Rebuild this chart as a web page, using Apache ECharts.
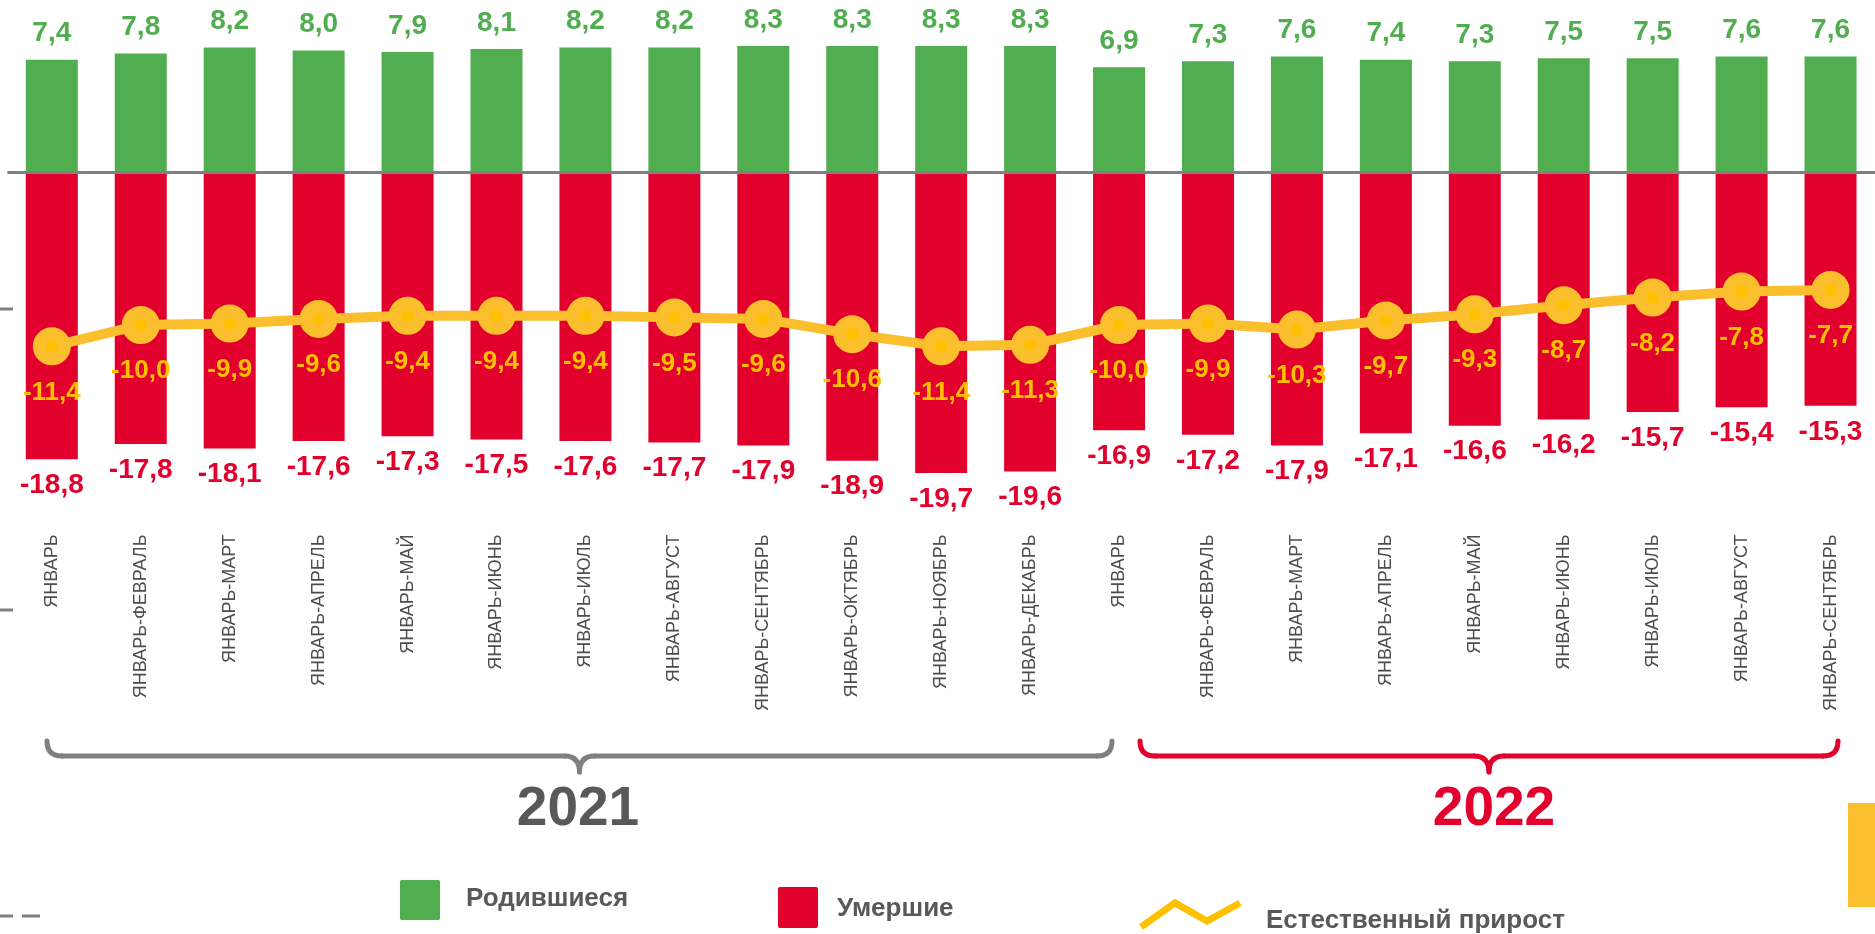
<!DOCTYPE html>
<html>
<head>
<meta charset="utf-8">
<script src="https://cdn.jsdelivr.net/npm/echarts@6/dist/echarts.min.js"></script>
<style>
  html, body { margin: 0; padding: 0; background: #fff; }
  #chartContainer { width: 1875px; height: 934px; }
</style>
</head>
<body>
<div id="chartContainer"></div>
<script>
// Categories (two years, cumulative periods)
const months2021 = ['ЯНВАРЬ', 'ЯНВАРЬ-ФЕВРАЛЬ', 'ЯНВАРЬ-МАРТ', 'ЯНВАРЬ-АПРЕЛЬ', 'ЯНВАРЬ-МАЙ', 'ЯНВАРЬ-ИЮНЬ',
    'ЯНВАРЬ-ИЮЛЬ', 'ЯНВАРЬ-АВГУСТ', 'ЯНВАРЬ-СЕНТЯБРЬ', 'ЯНВАРЬ-ОКТЯБРЬ', 'ЯНВАРЬ-НОЯБРЬ', 'ЯНВАРЬ-ДЕКАБРЬ'];
const months2022 = ['ЯНВАРЬ', 'ЯНВАРЬ-ФЕВРАЛЬ', 'ЯНВАРЬ-МАРТ', 'ЯНВАРЬ-АПРЕЛЬ', 'ЯНВАРЬ-МАЙ', 'ЯНВАРЬ-ИЮНЬ',
    'ЯНВАРЬ-ИЮЛЬ', 'ЯНВАРЬ-АВГУСТ', 'ЯНВАРЬ-СЕНТЯБРЬ'];

// Values per 1000 population
const births = [7.4, 7.8, 8.2, 8.0, 7.9, 8.1, 8.2, 8.2, 8.3, 8.3, 8.3, 8.3,
    6.9, 7.3, 7.6, 7.4, 7.3, 7.5, 7.5, 7.6, 7.6];
const deaths = [-18.8, -17.8, -18.1, -17.6, -17.3, -17.5, -17.6, -17.7, -17.9, -18.9, -19.7, -19.6,
    -16.9, -17.2, -17.9, -17.1, -16.6, -16.2, -15.7, -15.4, -15.3];
const naturalGrowth = [-11.4, -10.0, -9.9, -9.6, -9.4, -9.4, -9.4, -9.5, -9.6, -10.6, -11.4, -11.3,
    -10.0, -9.9, -10.3, -9.7, -9.3, -8.7, -8.2, -7.8, -7.7];

const yearLabels = ['2021', '2022'];
const legendNames = ['Родившиеся', 'Умершие', 'Естественный прирост'];

const GREEN = '#50AE50';
const RED = '#E2002D';
const GOLD = '#FBBF2D';
const GRAY = '#808080';
const FONT = "'Liberation Sans', Arial, sans-serif";

const categories = months2021.concat(months2022);

function fmt(p) {
    return p.value.toFixed(1).replace('.', ',');
}

// curly brace built from curves and lines
function brace(x1, x2, y, color) {
    const mid = (x1 + x2) / 2;
    const r = 15;
    const style = { stroke: color, lineWidth: 5, fill: null, lineCap: 'round' };
    return [
        { type: 'bezierCurve', shape: { x1: x1, y1: y - r, cpx1: x1, cpy1: y, x2: x1 + r, y2: y }, style: style },
        { type: 'line', shape: { x1: x1 + r, y1: y, x2: mid - r, y2: y }, style: style },
        { type: 'bezierCurve', shape: { x1: mid - r, y1: y, cpx1: mid, cpy1: y, x2: mid, y2: y + 16 }, style: style },
        { type: 'bezierCurve', shape: { x1: mid, y1: y + 16, cpx1: mid, cpy1: y, x2: mid + r, y2: y }, style: style },
        { type: 'line', shape: { x1: mid + r, y1: y, x2: x2 - r, y2: y }, style: style },
        { type: 'bezierCurve', shape: { x1: x2 - r, y1: y, cpx1: x2, cpy1: y, x2: x2, y2: y - r }, style: style }
    ];
}

const legendText = { fill: '#595959', fontSize: 26, fontWeight: 'bold', fontFamily: FONT, verticalAlign: 'middle' };

const graphics = [].concat(
    brace(47, 1112, 756, GRAY),
    brace(1140, 1838, 756, RED),
    [
        { type: 'text', x: 578, y: 810, style: { text: yearLabels[0], fill: '#595959', fontSize: 55, fontWeight: 'bold', fontFamily: FONT, align: 'center', verticalAlign: 'middle' } },
        { type: 'text', x: 1494, y: 810, style: { text: yearLabels[1], fill: RED, fontSize: 55, fontWeight: 'bold', fontFamily: FONT, align: 'center', verticalAlign: 'middle' } },

        // legend
        { type: 'rect', shape: { x: 400, y: 880, width: 40, height: 40, r: 2 }, style: { fill: GREEN } },
        { type: 'text', x: 466, y: 899, style: Object.assign({ text: legendNames[0] }, legendText) },
        { type: 'rect', shape: { x: 778, y: 887, width: 40, height: 41, r: 2 }, style: { fill: RED } },
        { type: 'text', x: 837, y: 909, style: Object.assign({ text: legendNames[1] }, legendText) },
        { type: 'polyline', shape: { points: [[1141, 927], [1175, 903], [1207, 921], [1240, 903]] }, style: { stroke: '#FFC000', lineWidth: 7, fill: null } },
        { type: 'text', x: 1266, y: 921, style: Object.assign({ text: legendNames[2] }, legendText) },

        // bits of neighbouring slide elements
        { type: 'rect', shape: { x: 1848, y: 803, width: 27, height: 104 }, style: { fill: GOLD } },
        { type: 'line', shape: { x1: 0, y1: 309, x2: 13, y2: 309 }, style: { stroke: GRAY, lineWidth: 3 } },
        { type: 'line', shape: { x1: 0, y1: 610, x2: 13, y2: 610 }, style: { stroke: GRAY, lineWidth: 3 } },
        { type: 'line', shape: { x1: 0, y1: 916, x2: 13, y2: 916 }, style: { stroke: GRAY, lineWidth: 3 } },
        { type: 'line', shape: { x1: 22, y1: 916, x2: 40, y2: 916 }, style: { stroke: GRAY, lineWidth: 3 } }
    ]
);

const myChart = echarts.init(document.getElementById('chartContainer'));

const option = {
    animation: false,
    textStyle: { fontFamily: FONT },
    grid: { left: 7.35, top: 20, width: 1875.3, height: 457.5, containLabel: false },
    xAxis: {
        type: 'category',
        data: categories,
        axisLine: { show: false, onZero: false },
        axisTick: { show: false },
        axisLabel: { rotate: 90, margin: 57, fontSize: 18, color: '#4D4D4D', fontFamily: FONT, interval: 0 }
    },
    yAxis: {
        type: 'value',
        min: -20,
        max: 10,
        show: false
    },
    series: [
        {
            name: legendNames[0],
            type: 'bar',
            stack: 'total',
            data: births,
            barWidth: 52,
            itemStyle: { color: GREEN },
            label: { show: true, position: 'top', distance: 12, formatter: fmt, color: GREEN, fontSize: 28, fontWeight: 'bold', fontFamily: FONT },
            markLine: {
                silent: true,
                symbol: 'none',
                label: { show: false },
                lineStyle: { color: GRAY, width: 3, type: 'solid' },
                data: [{ yAxis: 0 }]
            }
        },
        {
            name: legendNames[1],
            type: 'bar',
            stack: 'total',
            data: deaths,
            barWidth: 52,
            itemStyle: { color: RED },
            label: { show: true, position: 'bottom', distance: 12, formatter: fmt, color: RED, fontSize: 28, fontWeight: 'bold', fontFamily: FONT }
        },
        {
            name: legendNames[2],
            type: 'line',
            data: naturalGrowth,
            z: 5,
            symbol: 'circle',
            symbolSize: 25,
            lineStyle: { color: GOLD, width: 10 },
            itemStyle: { color: '#FFC000', borderColor: GOLD, borderWidth: 13 },
            label: { show: true, position: 'bottom', distance: 14, formatter: fmt, color: '#FFC000', fontSize: 26, fontWeight: 'bold', fontFamily: FONT }
        }
    ],
    graphic: { elements: graphics }
};

myChart.setOption(option);
</script>
</body>
</html>
